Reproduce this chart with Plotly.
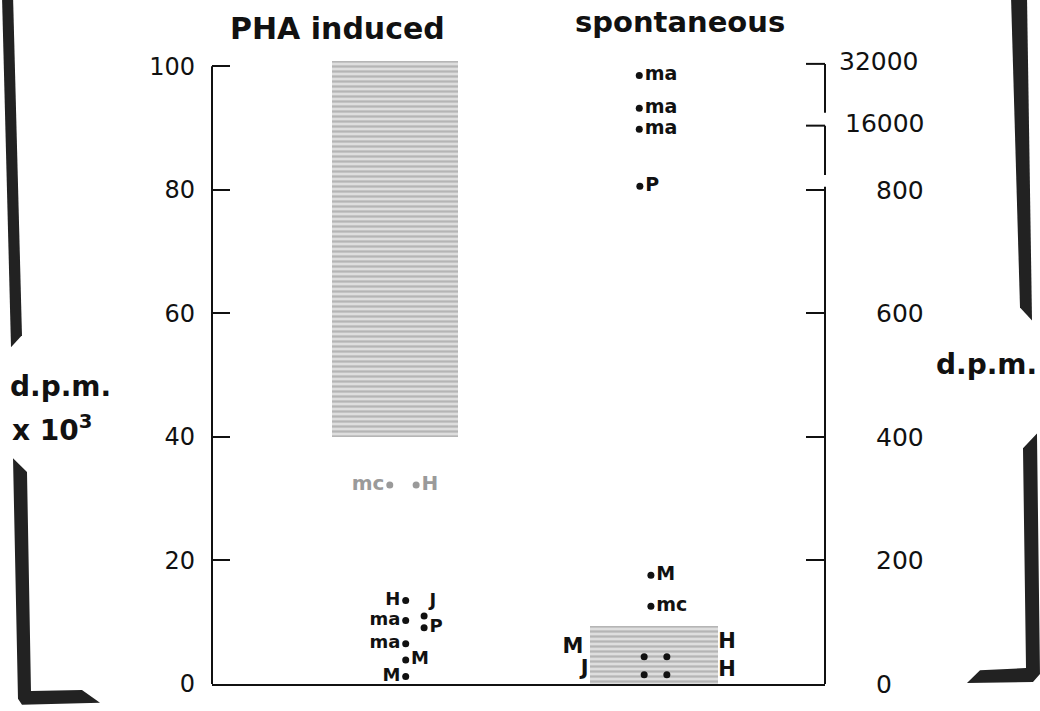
import plotly.graph_objects as go

W, H = 1040, 711
L, R, T, B = 212, 215, 54, 21
PW, PH = W - L - R, H - T - B
FONT = "DejaVu Sans"

# ---------------- data ----------------
# PHA induced, d.p.m. x 10^3 (left axis)
pha_labels = ["H", "ma", "ma", "M", "M", "J", "P"]
pha_values = [13.5, 10.3, 6.5, 3.9, 1.2, 11.0, 9.1]
pha_xpos = [31.6, 31.6, 31.6, 31.6, 31.6, 34.6, 34.6]
pha_side = ["middle left", "middle left", "middle left", "middle right",
            "middle left", "top right", "middle right"]

pha_gray_labels = ["mc", "H"]
pha_gray_values = [32.2, 32.2]
pha_gray_xpos = [29.0, 33.3]
pha_gray_side = ["middle left", "middle right"]

pha_band = [40.0, 100.8]
pha_band_x = [19.6, 40.2]

# spontaneous, d.p.m. (right axis, broken above 800)
spon_labels = ["ma", "ma", "ma", "P", "M", "mc"]
spon_values = [985, 932, 898, 806, 176, 126]
spon_xpos = [69.7, 69.7, 69.7, 69.8, 71.6, 71.6]

spon_pair_values = [44, 44, 15, 15]
spon_pair_xpos = [70.5, 74.2, 70.5, 74.2]

spon_edge_labels = ["M", "J", "H", "H"]
spon_edge_values = [59, 23, 66, 22]
spon_edge_xpos = [58.9, 60.8, 84.0, 84.0]

spon_band = [0, 94]
spon_band_x = [61.7, 82.5]

left_ticks = [0, 20, 40, 60, 80, 100]
right_ticks = [0, 200, 400, 600, 800]
break_ticks = [904, 1004]
break_labels = ["16000", "32000"]


def px(x, y):
    return (x - L) / PW, (H - B - y) / PH


fig = go.Figure()

band_marker = dict(color="#d8d8d8", line=dict(width=0),
                   pattern=dict(shape="-", fgcolor="#8c8c8c", bgcolor="#dedede",
                                size=5, solidity=0.45))

fig.add_trace(go.Bar(
    x=[(pha_band_x[0] + pha_band_x[1]) / 2], y=[pha_band[1] - pha_band[0]],
    base=[pha_band[0]], width=[pha_band_x[1] - pha_band_x[0]],
    marker=band_marker, hoverinfo="skip", textposition="none"))
fig.add_trace(go.Bar(
    x=[(spon_band_x[0] + spon_band_x[1]) / 2], y=[spon_band[1] - spon_band[0]],
    base=[spon_band[0]], width=[spon_band_x[1] - spon_band_x[0]],
    marker=band_marker, yaxis="y2", hoverinfo="skip", textposition="none"))

fig.add_trace(go.Scatter(
    x=pha_xpos, y=pha_values, mode="markers+text", text=pha_labels,
    textposition=pha_side,
    textfont=dict(family=FONT, size=18, color="#111", weight="bold"),
    marker=dict(color="#111", size=7), cliponaxis=False))
fig.add_trace(go.Scatter(
    x=pha_gray_xpos, y=pha_gray_values, mode="markers+text", text=pha_gray_labels,
    textposition=pha_gray_side,
    textfont=dict(family=FONT, size=20, color="#9a9a9a", weight="bold"),
    marker=dict(color="#9a9a9a", size=7), cliponaxis=False))
fig.add_trace(go.Scatter(
    x=spon_xpos, y=spon_values, mode="markers+text", text=spon_labels,
    textposition="middle right",
    textfont=dict(family=FONT, size=19, color="#111", weight="bold"),
    marker=dict(color="#111", size=7), yaxis="y2", cliponaxis=False))
fig.add_trace(go.Scatter(
    x=spon_pair_xpos, y=spon_pair_values, mode="markers",
    marker=dict(color="#111", size=7), yaxis="y2", cliponaxis=False))
fig.add_trace(go.Scatter(
    x=spon_edge_xpos, y=spon_edge_values, mode="text", text=spon_edge_labels,
    textposition="middle center",
    textfont=dict(family=FONT, size=21, color="#111", weight="bold"),
    yaxis="y2", cliponaxis=False))

shapes = []
# left axis line (0..100)
shapes.append(dict(type="line", xref="paper", yref="y", x0=0, x1=0, y0=0, y1=100,
                   line=dict(color="#111", width=2)))
# right axis segments
for y0, y1 in [(0, 805), (824, 904), (925, 1004)]:
    shapes.append(dict(type="line", xref="paper", yref="y2", x0=1, x1=1, y0=y0, y1=y1,
                       line=dict(color="#111", width=2)))
# tick marks on the broken part of the right axis
for v in break_ticks:
    shapes.append(dict(type="line", xref="paper", yref="y2", x0=1 - 19 / PW, x1=1,
                       y0=v, y1=v, line=dict(color="#111", width=2)))


# decorative brackets (pixel outlines)
def poly(points):
    pts = [px(x, y) for x, y in points]
    d = "M " + " L ".join(f"{a:.4f},{b:.4f}" for a, b in pts) + " Z"
    return dict(type="path", xref="paper", yref="paper", path=d,
                fillcolor="#222", line=dict(width=0))


shapes.append(poly([(2, -5), (13, -5), (22, 338), (11, 350)]))
shapes.append(poly([(13, 462), (27, 476), (31, 697), (82, 696), (100, 709), (22, 711), (18, 705)]))
shapes.append(poly([(1011, -5), (1027, -5), (1032, 323), (1020, 310)]))
shapes.append(poly([(1023, 452), (1037, 437), (1040, 680), (1033, 688), (967, 689), (980, 676), (1026, 674)]))

annotations = []


def ann(text, x, y, size, xanchor="center", yanchor="middle", color="#111", weight="bold"):
    ax, ay = px(x, y)
    annotations.append(dict(text=text, x=ax, y=ay, xref="paper", yref="paper",
                            xanchor=xanchor, yanchor=yanchor, showarrow=False,
                            font=dict(family=FONT, size=size, color=color, weight=weight)))


ann("PHA induced", 337, 28, 30)
ann("spontaneous", 680, 22, 29)
ann("d.p.m.", 60, 390, 28)
ann("x 10<sup>3</sup>", 10, 432, 28, xanchor="left")
ann("d.p.m.", 986, 367, 28)

for lab, v, xl in zip(break_labels, break_ticks, [843, 837]):
    annotations.append(dict(text=lab, x=(xl - L) / PW, y=v + 4, xref="paper", yref="y2",
                            xanchor="left", yanchor="middle", showarrow=False,
                            font=dict(family=FONT, size=25, color="#111")))

fig.update_layout(
    width=W, height=H,
    margin=dict(l=L, r=R, t=T, b=B, pad=0),
    paper_bgcolor="white", plot_bgcolor="white",
    showlegend=False, barmode="overlay", bargap=0,
    xaxis=dict(range=[0, 100], showgrid=False, zeroline=False, showticklabels=False,
               ticks="", showline=True, linecolor="#111", linewidth=2),
    yaxis=dict(range=[0, 102], tickvals=left_ticks, ticks="inside", ticklen=18,
               tickwidth=2, tickcolor="#111", showgrid=False, zeroline=False,
               showline=False, ticklabelstandoff=16,
               tickfont=dict(family=FONT, size=24, color="#111")),
    yaxis2=dict(range=[0, 1020], overlaying="y", side="right",
                tickvals=right_ticks,
                ticks="inside", ticklen=19, tickwidth=2, tickcolor="#111",
                showgrid=False, zeroline=False, showline=False, ticklabelstandoff=50,
                tickfont=dict(family=FONT, size=25, color="#111")),
    shapes=shapes, annotations=annotations,
)

fig.write_html("out.html")
